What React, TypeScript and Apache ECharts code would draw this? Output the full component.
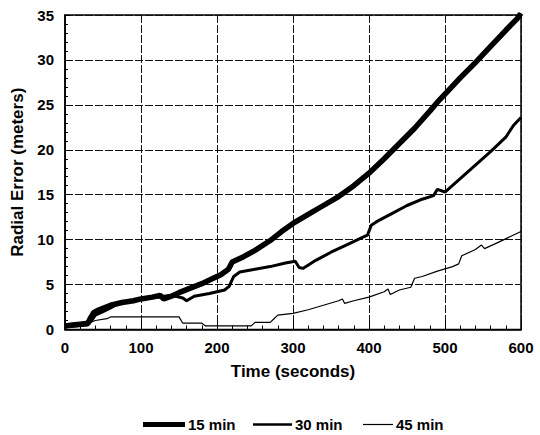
import React, { useEffect, useRef } from "react";
import * as echarts from "echarts";

const seriesNames = ["15 min", "30 min", "45 min"];

const t15 = [0, 10, 20, 30, 33, 38, 45, 60, 75, 90, 100, 115, 125, 130, 140, 150, 165, 180, 195, 205, 215, 220, 235, 250, 270, 285, 300, 320, 340, 360, 380, 400, 420, 440, 460, 480, 490, 500, 520, 540, 560, 580, 595, 600];
const v15 = [0.4, 0.5, 0.6, 0.7, 1.2, 1.9, 2.2, 2.7, 3.0, 3.2, 3.4, 3.6, 3.8, 3.4, 3.7, 4.1, 4.6, 5.1, 5.7, 6.1, 6.7, 7.5, 8.1, 8.8, 9.9, 10.9, 11.8, 12.8, 13.8, 14.8, 16.0, 17.4, 19.0, 20.7, 22.4, 24.3, 25.3, 26.2, 28.0, 29.7, 31.5, 33.3, 34.6, 35.2];

const t30 = [0, 15, 30, 35, 40, 50, 60, 70, 80, 100, 120, 140, 155, 160, 170, 190, 210, 216, 222, 230, 250, 270, 290, 303, 308, 313, 330, 350, 370, 390, 398, 403, 410, 430, 450, 470, 485, 490, 500, 520, 540, 560, 580, 590, 600];
const v30 = [0.3, 0.4, 0.5, 1.0, 1.6, 2.0, 2.4, 2.9, 3.1, 3.4, 3.6, 3.8, 3.5, 3.2, 3.7, 4.0, 4.4, 4.8, 5.9, 6.4, 6.7, 7.0, 7.4, 7.6, 6.9, 6.8, 7.7, 8.6, 9.4, 10.2, 10.5, 11.6, 12.0, 12.9, 13.8, 14.5, 14.9, 15.6, 15.3, 16.8, 18.3, 19.8, 21.4, 22.7, 23.6];

const t45 = [0, 20, 30, 40, 55, 60, 100, 150, 155, 180, 185, 245, 250, 270, 275, 280, 300, 320, 340, 360, 365, 368, 380, 400, 420, 425, 428, 440, 455, 460, 470, 490, 510, 518, 522, 540, 548, 552, 570, 600];
const v45 = [0.4, 0.5, 0.7, 1.0, 1.2, 1.4, 1.4, 1.4, 0.7, 0.7, 0.4, 0.4, 0.8, 0.8, 1.2, 1.6, 1.8, 2.2, 2.7, 3.2, 3.4, 2.9, 3.2, 3.6, 4.2, 4.5, 3.9, 4.4, 4.7, 5.7, 5.9, 6.5, 7.0, 7.3, 8.2, 8.9, 9.4, 9.0, 9.7, 10.9];

const xTicks = [0, 100, 200, 300, 400, 500, 600];
const yTicks = [0, 5, 10, 15, 20, 25, 30, 35];

const pairs = (t: number[], v: number[]) => t.map((x, i) => [x, v[i]]);

const FONT = "'Liberation Sans', Arial, sans-serif";

export default function App() {
  const ref = useRef<HTMLDivElement>(null);
  useEffect(() => {
    if (!ref.current) return;
    const chart = echarts.init(ref.current, undefined, { renderer: "svg" });
    const widths = [5.5, 3, 1.2];
    const datas = [pairs(t15, v15), pairs(t30, v30), pairs(t45, v45)];
    const legendLeft = [143, 253, 363];
    const legendIconW = [42, 39, 30];
    const legendIconH = [5, 2.5, 1.2];
    const textStyle = { fontFamily: FONT, fontWeight: "bold", fontSize: 15, color: "#000" };
    chart.setOption({
      animation: false,
      backgroundColor: "#ffffff",
      textStyle: { fontFamily: FONT },
      grid: {
        left: 65,
        top: 15,
        right: 19,
        bottom: 105.5,
        show: true,
        borderColor: "#000",
        borderWidth: 1.5,
        containLabel: false,
      },
      legend: seriesNames.map((name, i) => ({
        data: [{ name, icon: "rect" }],
        top: 417,
        left: legendLeft[i],
        padding: 0,
        itemWidth: legendIconW[i],
        itemHeight: legendIconH[i],
        itemGap: 0,
        selectedMode: false,
        itemStyle: { color: "#000", borderWidth: 0 },
        textStyle: { ...textStyle, padding: [0, 0, 0, -2] },
      })),
      xAxis: {
        type: "value",
        min: xTicks[0],
        max: xTicks[xTicks.length - 1],
        interval: 100,
        name: "Time (seconds)",
        nameLocation: "middle",
        nameGap: 33,
        nameTextStyle: { fontFamily: FONT, fontWeight: "bold", fontSize: 17, color: "#000" },
        axisLine: { show: true, lineStyle: { color: "#000", width: 1.5 } },
        axisTick: { show: true, inside: true, length: 8, lineStyle: { color: "#000" } },
        minorTick: { show: true, splitNumber: 5, length: 4, lineStyle: { color: "#000" } },
        axisLabel: { ...textStyle, margin: 10 },
        splitLine: { show: true, lineStyle: { color: "#111", width: 1, type: [8, 2] } },
      },
      yAxis: {
        type: "value",
        min: yTicks[0],
        max: yTicks[yTicks.length - 1],
        interval: 5,
        name: "Radial Error (meters)",
        nameLocation: "middle",
        nameGap: 32,
        nameTextStyle: { fontFamily: FONT, fontWeight: "bold", fontSize: 17, color: "#000" },
        axisLine: { show: true, lineStyle: { color: "#000", width: 1.5 } },
        axisTick: { show: true, inside: true, length: 5, lineStyle: { color: "#000" } },
        minorTick: { show: true, splitNumber: 5, length: 3, lineStyle: { color: "#000" } },
        axisLabel: { ...textStyle, margin: 11 },
        splitLine: { show: true, lineStyle: { color: "#111", width: 1, type: [8, 2] } },
      },
      series: seriesNames.map((name, i) => ({
        name,
        type: "line",
        data: datas[i],
        showSymbol: false,
        symbol: "none",
        lineStyle: { color: "#000", width: widths[i] },
        itemStyle: { color: "#000" },
        z: 3 - i,
      })),
    });
    return () => chart.dispose();
  }, []);
  return (
    <div
      ref={ref}
      style={{ position: "fixed", left: 0, top: 0, width: 540, height: 435 }}
    />
  );
}
